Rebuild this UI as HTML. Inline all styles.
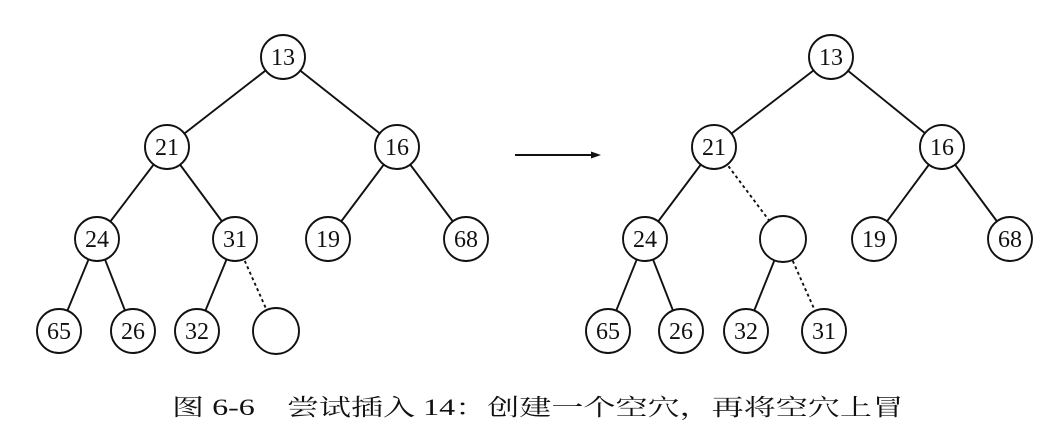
<!DOCTYPE html>
<html><head><meta charset="utf-8"><style>
html,body{margin:0;padding:0;background:#fff;width:1048px;height:446px;overflow:hidden}
</style></head><body>
<svg width="1048" height="446" viewBox="0 0 1048 446" xmlns="http://www.w3.org/2000/svg">
<g stroke="#111" stroke-width="1.9" fill="none">
<line x1="283" y1="57" x2="167" y2="147"/>
<line x1="283" y1="57" x2="397" y2="147"/>
<line x1="167" y1="147" x2="97" y2="239"/>
<line x1="167" y1="147" x2="235" y2="239"/>
<line x1="397" y1="147" x2="328" y2="239"/>
<line x1="397" y1="147" x2="466" y2="239"/>
<line x1="97" y1="239" x2="59" y2="331"/>
<line x1="97" y1="239" x2="133" y2="331"/>
<line x1="235" y1="239" x2="197" y2="331"/>
<line x1="235" y1="239" x2="276" y2="331" stroke-dasharray="3,3"/>
<line x1="831" y1="57" x2="714" y2="147"/>
<line x1="831" y1="57" x2="942" y2="147"/>
<line x1="714" y1="147" x2="645" y2="239"/>
<line x1="714" y1="147" x2="783" y2="239" stroke-dasharray="3,3"/>
<line x1="942" y1="147" x2="874" y2="239"/>
<line x1="942" y1="147" x2="1010" y2="239"/>
<line x1="645" y1="239" x2="608" y2="331"/>
<line x1="645" y1="239" x2="681" y2="331"/>
<line x1="783" y1="239" x2="746" y2="331"/>
<line x1="783" y1="239" x2="824" y2="331" stroke-dasharray="3,3"/>
<line x1="515" y1="155" x2="594" y2="155"/>
</g>
<polygon points="601,155 591,151.5 591,158.5" fill="#111"/>
<g stroke="#111" stroke-width="1.9" fill="#fff">
<circle cx="283" cy="57" r="22"/><circle cx="167" cy="147" r="22"/><circle cx="397" cy="147" r="22"/>
<circle cx="97" cy="239" r="22"/><circle cx="235" cy="239" r="22"/><circle cx="328" cy="239" r="22"/><circle cx="466" cy="239" r="22"/>
<circle cx="59" cy="331" r="22"/><circle cx="133" cy="331" r="22"/><circle cx="197" cy="331" r="22"/><circle cx="276" cy="331" r="23"/>
<circle cx="831" cy="57" r="22"/><circle cx="714" cy="147" r="22"/><circle cx="942" cy="147" r="22"/>
<circle cx="645" cy="239" r="22"/><circle cx="783" cy="239" r="23"/><circle cx="874" cy="239" r="22"/><circle cx="1010" cy="239" r="22"/>
<circle cx="608" cy="331" r="22"/><circle cx="681" cy="331" r="22"/><circle cx="746" cy="331" r="22"/><circle cx="824" cy="331" r="22"/>
</g>
<g font-family="'Liberation Serif',serif" font-size="24" fill="#111" text-anchor="middle">
<text x="283" y="65">13</text><text x="167" y="155">21</text><text x="397" y="155">16</text>
<text x="97" y="247">24</text><text x="235" y="247">31</text><text x="328" y="247">19</text><text x="466" y="247">68</text>
<text x="59" y="339">65</text><text x="133" y="339">26</text><text x="197" y="339">32</text>
<text x="831" y="65">13</text><text x="714" y="155">21</text><text x="942" y="155">16</text>
<text x="645" y="247">24</text><text x="874" y="247">19</text><text x="1010" y="247">68</text>
<text x="608" y="339">65</text><text x="681" y="339">26</text><text x="746" y="339">32</text><text x="824" y="339">31</text>
</g>
<text x="172" y="415" font-family="'Liberation Serif','Noto Serif CJK SC',serif" font-size="23" fill="#111" textLength="732" lengthAdjust="spacingAndGlyphs">图 6-6　尝试插入 14：创建一个空穴，再将空穴上冒</text>
</svg>
</body></html>
